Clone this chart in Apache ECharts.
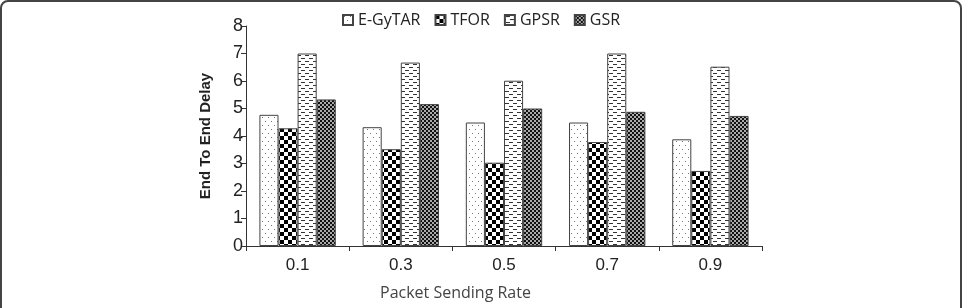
<!DOCTYPE html>
<html>
<head>
<meta charset="utf-8">
<script src="https://cdn.jsdelivr.net/npm/echarts@6/dist/echarts.min.js"></script>
<style>
  html, body { margin: 0; padding: 0; background: #fff; }
  #chart { width: 963px; height: 308px; }
</style>
</head>
<body>
<div id="chart"></div>
<script>
// data
const rates = ['0.1', '0.3', '0.5', '0.7', '0.9'];
const egytar = [4.77, 4.32, 4.49, 4.49, 3.88];
const tfor = [4.28, 3.52, 3.03, 3.78, 2.73];
const gpsr = [7.0, 6.67, 6.01, 7.0, 6.52];
const gsr = [5.33, 5.16, 5.0, 4.88, 4.73];
const yTicks = [0, 1, 2, 3, 4, 5, 6, 7, 8];

// little canvas tiles for the hatch fills
function tile(w, h, draw) {
  const c = document.createElement('canvas');
  c.width = w; c.height = h;
  const ctx = c.getContext('2d');
  ctx.fillStyle = '#fff';
  ctx.fillRect(0, 0, w, h);
  draw(ctx);
  return { image: c, repeat: 'repeat' };
}
const dots = tile(6, 8, ctx => {
  ctx.fillStyle = '#777';
  ctx.fillRect(1, 1, 1, 1);
  ctx.fillRect(4, 5, 1, 1);
});
const checker = tile(8, 8, ctx => {
  ctx.fillStyle = '#000';
  ctx.fillRect(0, 0, 4, 4);
  ctx.fillRect(4, 4, 4, 4);
});
const dashes = tile(8, 6, ctx => {
  ctx.fillStyle = '#333';
  ctx.fillRect(1, 1, 4, 1);
  ctx.fillRect(5, 4, 3, 1);
  ctx.fillRect(0, 4, 1, 1);
});
const fine = tile(4, 4, ctx => {
  ctx.fillStyle = '#aaa';
  ctx.fillRect(0, 0, 4, 4);
  ctx.fillStyle = '#111';
  ctx.fillRect(0, 0, 2, 2);
  ctx.fillRect(2, 2, 2, 2);
});

let chart = echarts.init(document.getElementById('chart'));

function bar(name, data, fill) {
  return {
    name: name,
    type: 'bar',
    data: data,
    barGap: 0,
    barCategoryGap: '26%',
    itemStyle: { color: fill, borderColor: '#444', borderWidth: 1 }
  };
}

let option = {
  animation: false,
  backgroundColor: '#fff',
  grid: { left: 246, right: 201, top: 26, bottom: 62 },
  legend: {
    top: 12,
    left: 342,
    padding: 0,
    icon: 'rect',
    itemWidth: 10,
    itemHeight: 10,
    itemGap: 14,
    textStyle: { fontFamily: 'Open Sans', fontSize: 16, color: '#222' },
    data: ['E-GyTAR', 'TFOR', 'GPSR', 'GSR']
  },
  xAxis: {
    type: 'category',
    data: rates,
    axisLine: { lineStyle: { color: '#333', width: 1 } },
    axisTick: { show: true, length: 5, lineStyle: { color: '#333' } },
    axisLabel: { fontFamily: 'Liberation Sans', fontSize: 17, color: '#222', margin: 11 }
  },
  yAxis: {
    type: 'value',
    min: yTicks[0],
    max: yTicks[yTicks.length - 1],
    interval: 1,
    name: 'End To End Delay',
    nameLocation: 'middle',
    nameGap: 33,
    nameTextStyle: { fontFamily: 'Liberation Sans', fontSize: 15, fontWeight: 'bold', color: '#222' },
    axisLine: { show: true, lineStyle: { color: '#333', width: 1 } },
    axisTick: { show: true, length: 5, lineStyle: { color: '#333' } },
    axisLabel: { fontFamily: 'Liberation Sans', fontSize: 18, color: '#222', margin: 3 },
    splitLine: { show: false }
  },
  series: [
    bar('E-GyTAR', egytar, dots),
    bar('TFOR', tfor, checker),
    bar('GPSR', gpsr, dashes),
    bar('GSR', gsr, fine)
  ],
  graphic: [
    {
      type: 'rect',
      shape: { x: 1, y: 1, width: 960, height: 340, r: 7 },
      style: { fill: 'none', stroke: '#444', lineWidth: 2 },
      silent: true
    },
    {
      type: 'text',
      left: 380,
      top: 285,
      style: { text: 'Packet Sending Rate', fontFamily: 'Open Sans', fontSize: 16, fill: '#444' }
    }
  ]
};
chart.setOption(option);
</script>
</body>
</html>
